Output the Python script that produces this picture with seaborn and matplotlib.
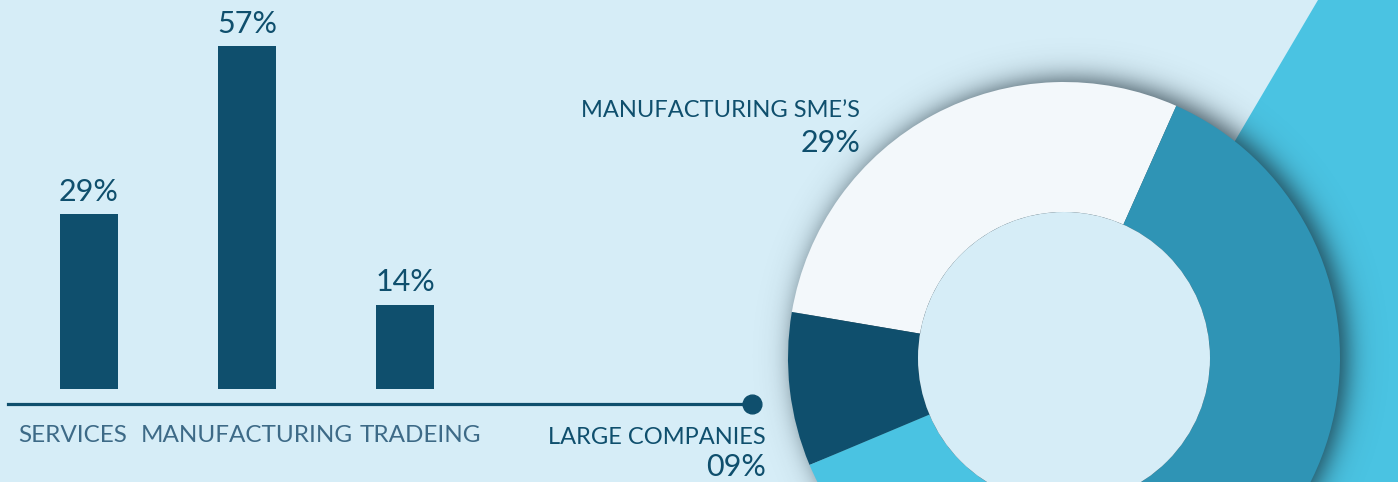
import numpy as np
import matplotlib
matplotlib.use("Agg")
import matplotlib.pyplot as plt
from matplotlib.patches import Polygon, Circle
from matplotlib.transforms import ScaledTranslation
import seaborn as sns

# ---- data -------------------------------------------------------------
sectors = ["SERVICES", "MANUFACTURING", "TRADEING"]
sector_share = [29, 57, 14]

# donut: Manufacturing SME's, Large companies, remaining two groups
donut_share = [29, 9, 19, 43]
donut_labels = ["MANUFACTURING SME\u2019S", "LARGE COMPANIES"]

# ---- style ------------------------------------------------------------
sns.set_style("white")
plt.rcParams["font.family"] = ["Lato", "DejaVu Sans"]

BG = "#d6edf7"
NAVY = "#0f4f6d"
LABEL = "#3d6a87"
donut_colors = ["#f3f8fb", "#0f4f6d", "#4ac3e2", "#2f94b5"]
STRIPE = "#4ac3e2"

W, H = 1398, 482
fig = plt.figure(figsize=(W / 100, H / 100), dpi=100, facecolor=BG)

# ---- background layer: diagonal stripe + soft shadow of the donut ------
bg = fig.add_axes([0, 0, 1, 1], zorder=0)
bg.set_xlim(0, W)
bg.set_ylim(H, 0)
bg.axis("off")
bg.set_facecolor(BG)
slope = 0.59
bg.add_patch(Polygon([(1318, 0), (W, 0), (W, H), (1318 - slope * H, H)],
                     closed=True, facecolor=STRIPE, edgecolor="none"))

cx, cy, R = 1064, 358, 276
yy, xx = np.mgrid[0:H, 0:W] + 0.5
dist = np.hypot(xx - (cx + 7), yy - (cy - 2)) - R
alpha = 0.8 / (1 + np.exp(dist / 8))
shadow = np.zeros((H, W, 4))
shadow[..., 0] = 20 / 255
shadow[..., 1] = 38 / 255
shadow[..., 2] = 48 / 255
shadow[..., 3] = alpha
bg.imshow(shadow, extent=(0, W, H, 0), interpolation="bilinear", zorder=2)

# ---- bar chart --------------------------------------------------------
px_per_pct = 6.02
axis_y = 403.7
base_gap = (axis_y - 389) / px_per_pct
top_pct = 62
ax_h = (top_pct + base_gap) * px_per_pct
ax = fig.add_axes([8 / W, (H - axis_y) / H, 744 / W, ax_h / H], zorder=2)
ax.patch.set_alpha(0)

sns.barplot(x=sectors, y=sector_share, ax=ax, color=NAVY, saturation=1,
            width=58 / 158, linewidth=0, edgecolor="none")
ax.set_xlim(-(89 - 8) / 158, (752 - 89) / 158)
ax.set_ylim(-base_gap, top_pct)
ax.bar_label(ax.containers[0], labels=[f"{v}%" for v in sector_share],
             padding=6, fontsize=22, color=NAVY)

for s in ["top", "right", "left"]:
    ax.spines[s].set_visible(False)
ax.spines["bottom"].set_color(NAVY)
ax.spines["bottom"].set_linewidth(2.3)
ax.set_yticks([])
ax.set_xlabel("")
ax.set_ylabel("")
ax.tick_params(axis="x", length=0, pad=15, labelsize=17.5, labelcolor=LABEL)
# spread the category names evenly under the axis line
for lab, shift in zip(ax.get_xticklabels(), [-16, 0, 15]):
    lab.set_transform(lab.get_transform()
                      + ScaledTranslation(shift / 100, 0, fig.dpi_scale_trans))
ax.plot([1], [0], transform=ax.transAxes, marker="o", ms=13.5, color=NAVY,
        clip_on=False)

# ---- donut ------------------------------------------------------------
dax = fig.add_axes([(cx - R) / W, (H - cy - R) / H, 2 * R / W, 2 * R / H],
                   zorder=3)
dax.pie(donut_share, colors=donut_colors, startangle=66, counterclock=True,
        radius=1, wedgeprops=dict(width=1 - 146 / R, linewidth=0))
dax.add_patch(Circle((0, 0), 146 / R, facecolor=BG, edgecolor="none",
                     zorder=5))
dax.set_xlim(-1, 1)
dax.set_ylim(-1, 1)
dax.axis("off")

# ---- donut annotations --------------------------------------------------
def fig_text(x, y, s, size, color):
    fig.text(x / W, 1 - y / H, s, ha="right", va="baseline",
             fontsize=size, color=color, zorder=6)

fig_text(860, 117, donut_labels[0], 17, NAVY)
fig_text(860, 152, f"{donut_share[0]:02d}%", 22, NAVY)
fig_text(766, 444, donut_labels[1], 17, NAVY)
fig_text(766, 476, f"{donut_share[1]:02d}%", 22, NAVY)

fig.savefig("out.png", dpi=100, facecolor=BG)
